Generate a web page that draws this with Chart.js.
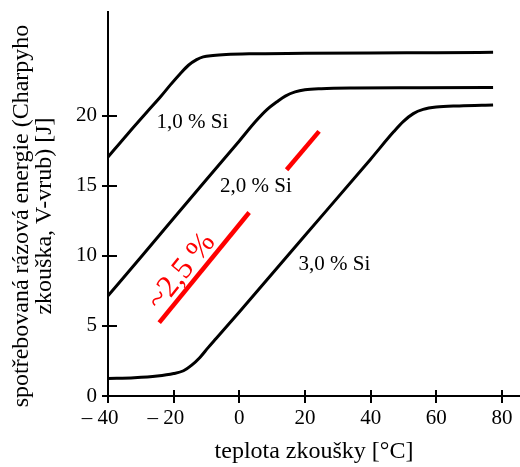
<!DOCTYPE html>
<html><head><meta charset="utf-8">
<script src="https://cdn.jsdelivr.net/npm/chart.js@4/dist/chart.umd.min.js"></script>
<style>html,body{margin:0;padding:0;background:#fff}#wrap{width:520px;height:467px}</style>
</head><body><div id="wrap"><canvas id="c"></canvas></div>
<script>
// ---- data ----
const temp1 = [-40, -34, -28, -24, -21, -18, -15.5, -13, -11, -8, -4, 3, 20, 40, 60, 77.3];
const energy1 = [17.05, 18.7, 20.3, 21.35, 22.2, 23.0, 23.6, 24.0, 24.2, 24.3, 24.37, 24.42, 24.45, 24.48, 24.5, 24.52];
const temp2 = [-40, -30, -20, -10, 0, 5, 8.5, 11.5, 14, 17, 20, 25, 35, 55, 77.3];
const energy2 = [7.15, 9.9, 12.68, 15.45, 18.2, 19.6, 20.45, 21.0, 21.4, 21.7, 21.85, 21.93, 21.98, 22.0, 22.02];
const temp3 = [-40, -32, -25, -20, -17, -14.5, -12, -9.5, -7, 0, 20, 40, 47, 50, 53, 56, 60, 67, 77.3];
const energy3 = [1.25, 1.3, 1.42, 1.6, 1.8, 2.2, 2.75, 3.45, 4.12, 6.0, 11.45, 16.9, 18.85, 19.6, 20.15, 20.45, 20.62, 20.7, 20.76];
const redTemp1 = [-24.4, 3.0];
const redEnergy1 = [5.24, 13.09];
const redTemp2 = [14.4, 24.3];
const redEnergy2 = [16.14, 18.88];
const xTicks = [-40, -20, 0, 20, 40, 60, 80];
const yTicks = [0, 5, 10, 15, 20];
const seriesLabels = ['1,0 % Si', '2,0 % Si', '3,0 % Si'];
const markLabel = '~2,5 %';
const xTitle = 'teplota zkoušky [°C]';
const yTitle = ['spotřebovaná rázová energie (Charpyho', 'zkouška, V-vrub) [J]'];

const pts = (xs, ys) => xs.map((v, i) => ({x: v, y: ys[i]}));

const crossTicks = {
  id: 'crossTicks',
  afterDraw(chart) {
    const {ctx, chartArea, scales: {x, y}} = chart;
    ctx.save();
    ctx.strokeStyle = '#000';
    ctx.lineWidth = 2;
    ctx.beginPath();
    x.ticks.forEach(t => {
      const px = Math.round(x.getPixelForValue(t.value));
      ctx.moveTo(px, chartArea.bottom - 6); ctx.lineTo(px, chartArea.bottom + 7);
    });
    y.ticks.forEach(t => {
      const py = Math.round(y.getPixelForValue(t.value));
      ctx.moveTo(chartArea.left - 6, py); ctx.lineTo(chartArea.left + 9, py);
    });
    ctx.stroke();
    ctx.restore();
  }
};

const textMarks = {
  id: 'textMarks',
  afterDatasetsDraw(chart, args, opts) {
    const {ctx, scales: {x, y}} = chart;
    opts.items.forEach(it => {
      ctx.save();
      ctx.translate(x.getPixelForValue(it.x), y.getPixelForValue(it.y));
      ctx.rotate((it.rotate || 0) * Math.PI / 180);
      ctx.font = it.font;
      ctx.fillStyle = it.color;
      ctx.textAlign = 'center';
      ctx.textBaseline = 'middle';
      ctx.fillText(it.text, 0, 0);
      ctx.restore();
    });
  }
};

Chart.defaults.font.family = "'Liberation Serif', 'Times New Roman', serif";
Chart.defaults.color = '#000';

const blackLine = {borderColor: '#000', borderWidth: 3, pointRadius: 0, cubicInterpolationMode: 'monotone', fill: false};
const redLine = {borderColor: '#ff0000', borderWidth: 4.5, pointRadius: 0, tension: 0, fill: false, borderCapStyle: 'butt'};
const noPad = s => { s.paddingTop = 0; s.paddingBottom = 0; s.paddingLeft = 0; s.paddingRight = 0; };

new Chart(document.getElementById('c'), {
  type: 'line',
  data: {
    datasets: [
      {label: seriesLabels[0], data: pts(temp1, energy1), ...blackLine},
      {label: seriesLabels[1], data: pts(temp2, energy2), ...blackLine},
      {label: seriesLabels[2], data: pts(temp3, energy3), ...blackLine},
      {label: markLabel, data: pts(redTemp1, redEnergy1), ...redLine},
      {label: markLabel + ' ', data: pts(redTemp2, redEnergy2), ...redLine}
    ]
  },
  options: {
    responsive: true,
    maintainAspectRatio: false,
    animation: false,
    layout: {padding: {top: 12, right: 0, left: 0, bottom: 0}},
    plugins: {
      legend: {display: false},
      tooltip: {enabled: false},
      textMarks: {items: [
        {text: seriesLabels[0], x: -14.26, y: 19.49, font: "21px 'Liberation Serif'", color: '#000'},
        {text: seriesLabels[1], x: 5.08, y: 14.94, font: "21px 'Liberation Serif'", color: '#000'},
        {text: seriesLabels[2], x: 28.99, y: 9.35, font: "21px 'Liberation Serif'", color: '#000'},
        {text: markLabel, x: -17.55, y: 8.87, rotate: -51, font: "31px 'Liberation Serif'", color: '#ff0000'}
      ]}
    },
    scales: {
      x: {
        type: 'linear', min: -40, max: 85.5,
        afterBuildTicks: s => { s.ticks = xTicks.map(v => ({value: v})); },
        afterFit: s => { s.height = 71; noPad(s); },
        ticks: {
          font: {size: 21}, padding: 10, maxRotation: 0, autoSkip: false,
          callback: v => v < 0 ? '\u2013 ' + Math.abs(v) + '   ' : String(v)
        },
        grid: {display: false, drawTicks: false},
        border: {display: true, color: '#000', width: 2},
        title: {display: true, text: xTitle, font: {size: 24, lineHeight: 1.0}, padding: {top: 0, bottom: 3}}
      },
      y: {
        type: 'linear', min: 0, max: 27.4,
        afterBuildTicks: s => { s.ticks = yTicks.map(v => ({value: v})); },
        afterFit: s => { s.width = 108; noPad(s); },
        ticks: {font: {size: 21}, padding: 11, autoSkip: false},
        grid: {display: false, drawTicks: false},
        border: {display: true, color: '#000', width: 2},
        title: {display: true, text: yTitle.map(t => t + '    '), font: {size: 24, lineHeight: 0.96}, padding: {top: 10, bottom: 0}}
      }
    }
  },
  plugins: [crossTicks, textMarks]
});
</script>
</body></html>
